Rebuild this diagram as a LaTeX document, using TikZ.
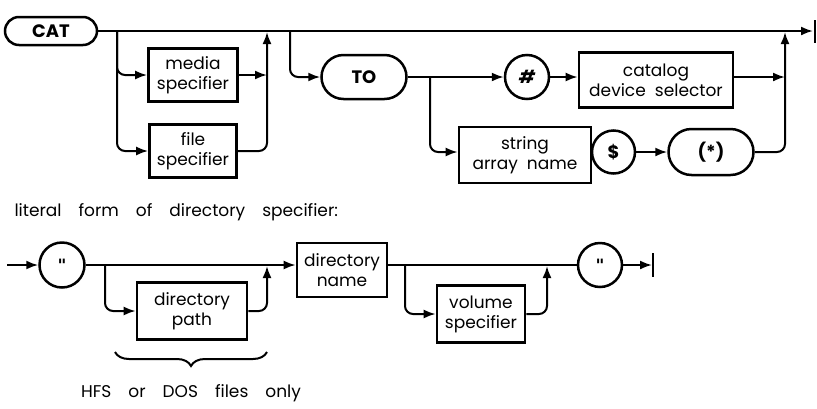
\documentclass[tikz,border=0pt]{standalone}
\usepackage{fontspec}
\setmainfont{Poppins}
\newfontfamily\dvfont{DejaVu Sans}
\usetikzlibrary{arrows.meta,decorations.pathreplacing,shapes.misc}
\newcommand{\wsp}{\hspace{17pt}}
\begin{document}
\begin{tikzpicture}[x=1pt,y=-1pt,
  font=\fontsize{17}{20}\selectfont,
  bx/.style={draw,line width=2.7pt,rectangle,inner sep=0pt,align=center},
  rb/.style={draw,line width=2.5pt,rounded rectangle,inner sep=0pt,align=center,font=\fontsize{18}{20}\selectfont\bfseries},
  cc/.style={draw,line width=2.5pt,circle,inner sep=0pt,align=center},
  ln/.style={line width=2pt},
  ar/.style={ln,-{Latex[length=12pt,width=9pt]}},
  rc/.style={rounded corners=8pt},
  qt/.style={font=\fontsize{17}{20}\dvfont\bfseries}
]
\useasboundingbox (0,0) rectangle (817,408);

% ---------- top diagram ----------
\node[rb,minimum width=92pt,minimum height=28pt] (cat) at (51,31) {CAT};
\node[bx,minimum width=89pt,minimum height=53pt] (media) at (193,75) {media\\specifier};
\node[bx,minimum width=87pt,minimum height=53pt] (file) at (193,151) {file\\specifier};
\node[rb,minimum width=85pt,minimum height=44pt] (to) at (364,77) {TO};
\node[cc,minimum size=44pt,font=\fontsize{18}{20}\selectfont\bfseries\itshape] (hash) at (527,77) {\#};
\node[bx,minimum width=154pt,minimum height=55pt] (catsel) at (656,80) {catalog\\device\ \ selector};
\node[bx,minimum width=132pt,minimum height=56pt] (sarr) at (525,155) {string\\array\ \ name};
\node[cc,minimum size=43pt,font=\fontsize{18}{20}\selectfont\bfseries] (dollar) at (613.5,152) {\$};
\node[rb,minimum width=85pt,minimum height=46pt] (star) at (711,152) {(*)};

\coordinate (b1) at (117,31);
\coordinate (m1) at (267,31);
\coordinate (b2) at (290,31);
\coordinate (b3) at (430,77);
\coordinate (m2) at (785,31);
\coordinate (endt) at (813,31);

\draw[ar] (cat.east) -- (endt);
\draw[line width=2.4pt] (endt) ++(2,-11) -- ++(0,23);

\draw[ar,rc] (b1) |- (media.west);
\draw[ar,rc] (b1) |- (file.west);
\draw[ar] (media.east) -- (media.east -| m1);
\draw[ar,rc,shorten >=1pt] (file.east) -| (m1);

\draw[ar,rc] (b2) |- (to.west);
\draw[ar] (to.east) -- (hash.west);
\draw[ar,rc] (b3) |- (sarr.west |- dollar);
\draw[ar] (hash.east) -- (catsel.west |- hash);
\draw[ar] (catsel.east |- hash) -- (hash -| m2);
\draw[ar] (dollar.east) -- (star.west);
\draw[ar,rc,shorten >=1pt] (star.east) -| (m2);

% ---------- bottom diagram ----------
\node[anchor=west] (title) at (11,212) {literal\wsp form\wsp of\wsp directory\wsp specifier:};

\coordinate (s0) at (7,265);
\node[cc,qt,minimum size=45pt] (q1) at (62,265) {"};
\node[bx,minimum width=110pt,minimum height=57pt] (dpath) at (192,311) {directory\\path};
\node[bx,minimum width=90pt,minimum height=54pt] (dname) at (342,270) {directory\\name};
\node[bx,minimum width=88pt,minimum height=57pt] (vol) at (481,314) {volume\\specifier};
\node[cc,qt,minimum size=44pt] (q2) at (600,265) {"};

\coordinate (b4) at (105,265);
\coordinate (m4) at (267,265);
\coordinate (b5) at (405,265);
\coordinate (m5) at (547,265);
\coordinate (e2) at (652,265);

\draw[ar] (s0) -- (q1.west);
\draw[ar] (q1.east) -- (dname.west |- q1);
\draw[ar,rc] (b4) |- (dpath.west);
\draw[ar,rc,shorten >=1pt] (dpath.east) -| (m4);
\draw[ln] (dname.east |- q1) -- (q2.west);
\draw[ar,rc] (b5) |- (vol.west);
\draw[ar,rc,shorten >=1pt] (vol.east) -| (m5);
\draw[ar] (q2.east) -- (e2);
\draw[line width=2.2pt] (e2) ++(1,-12) -- ++(0,24);

\coordinate (brl) at (115,352);
\coordinate (brr) at (267,352);
\draw[line width=2pt,decorate,decoration={brace,mirror,amplitude=14pt}] (brl) -- (brr);
\node (hfs) at (191,393) {HFS\wsp or\wsp DOS\wsp files\wsp only};
\end{tikzpicture}
\end{document}
